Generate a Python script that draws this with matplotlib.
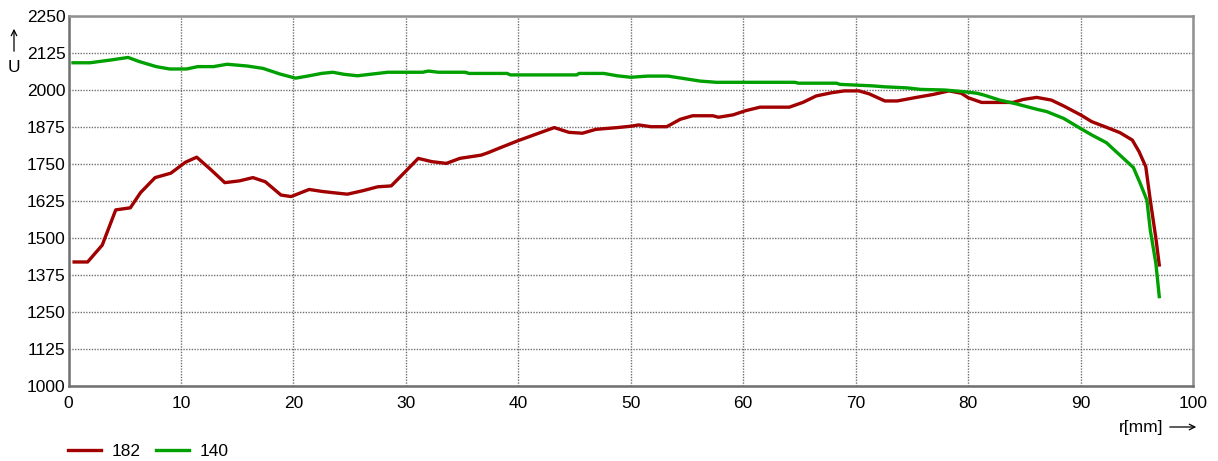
import matplotlib
matplotlib.use("Agg")
import matplotlib.pyplot as plt
from matplotlib.lines import Line2D

plt.rcParams["font.family"] = ["Liberation Sans", "DejaVu Sans"]

# radius [mm] and signal U for the two curves
r_182 = [0.5, 1.7, 3.0, 4.2, 5.5, 6.4, 7.7, 9.1, 10.4, 11.4, 12.6, 13.9, 15.2, 16.4,
         17.5, 18.9, 19.8, 21.4, 22.6, 23.8, 24.8, 26.2, 27.5, 28.7, 30.0, 31.1, 32.3,
         33.6, 34.8, 36.7, 37.3, 38.4, 40.0, 41.3, 43.2, 44.5, 45.7, 46.9, 48.8, 50.1,
         50.7, 51.8, 53.2, 54.4, 55.5, 57.3, 57.8, 59.1, 60.2, 61.5, 64.1, 65.3, 66.5,
         67.9, 69.0, 70.3, 71.2, 72.6, 73.7, 75.4, 76.9, 78.3, 79.4, 80.0, 81.2, 84.0,
         84.9, 86.1, 87.4, 88.5, 90.0, 91.0, 92.3, 93.5, 94.6, 95.2, 95.8, 96.2, 96.7, 97.0]
u_182 = [1419, 1419, 1476, 1595, 1602, 1653, 1704, 1719, 1756, 1773, 1733, 1687, 1693, 1704,
         1690, 1645, 1640, 1664, 1657, 1652, 1648, 1660, 1673, 1676, 1726, 1769, 1758,
         1752, 1769, 1780, 1788, 1805, 1829, 1847, 1873, 1857, 1854, 1867, 1873, 1878,
         1882, 1876, 1876, 1901, 1913, 1913, 1908, 1916, 1930, 1942, 1942, 1958, 1980,
         1991, 1997, 1997, 1987, 1963, 1963, 1975, 1985, 1997, 1989, 1974, 1958, 1958,
         1968, 1975, 1966, 1946, 1916, 1893, 1874, 1856, 1831, 1792, 1741, 1628, 1499, 1409]

r_140 = [0.4, 1.9, 3.7, 5.3, 6.3, 7.8, 9.0, 10.5, 11.5, 12.9, 14.1, 15.9, 17.3, 18.8,
         20.2, 21.4, 22.5, 23.5, 24.5, 25.7, 26.8, 28.4, 31.5, 32.0, 32.9, 35.3, 35.6,
         39.0, 39.3, 45.2, 45.4, 47.6, 48.8, 50.0, 51.5, 53.3, 54.5, 56.2, 57.6, 64.6,
         64.9, 68.3, 68.6, 71.5, 72.5, 74.6, 75.8, 77.9, 79.7, 80.8, 81.4, 82.8, 84.3,
         86.1, 87.0, 88.5, 90.0, 91.0, 92.3, 93.5, 94.7, 95.3, 95.9, 96.2, 96.7, 97.0]
u_140 = [2092, 2092, 2101, 2110, 2096, 2079, 2071, 2071, 2079, 2079, 2087, 2081, 2073, 2054,
         2040, 2048, 2056, 2060, 2053, 2048, 2053, 2060, 2060, 2064, 2060, 2060, 2056,
         2056, 2051, 2051, 2056, 2056, 2048, 2043, 2047, 2047, 2040, 2030, 2026, 2026,
         2023, 2023, 2019, 2014, 2011, 2007, 2002, 2000, 1994, 1989, 1983, 1966, 1953,
         1935, 1927, 1904, 1870, 1848, 1822, 1780, 1738, 1685, 1628, 1527, 1414, 1302]

y_ticks = [1000, 1125, 1250, 1375, 1500, 1625, 1750, 1875, 2000, 2125, 2250]
x_ticks = [0, 10, 20, 30, 40, 50, 60, 70, 80, 90, 100]

RED = "#a00000"
GREEN = "#00a000"
W, H = 1218, 461

fig = plt.figure(figsize=(W / 100, H / 100), dpi=100)
ax = fig.add_axes([68.5 / W, 1 - 386 / H, (1193 - 68.5) / W, 370 / H])

ax.plot(r_182, u_182, color=RED, lw=2.4, solid_joinstyle="round")
ax.plot(r_140, u_140, color=GREEN, lw=2.4, solid_joinstyle="round")

ax.set_xlim(0, 100)
ax.set_ylim(1000, 2250)
ax.set_xticks(x_ticks)
ax.set_yticks(y_ticks)
ax.tick_params(length=0, labelsize=12.5, pad=2)
ax.tick_params(axis="x", pad=7)
ax.grid(True, color="#707070", linestyle=(0, (1, 1)), linewidth=1.0)

for side in ["top", "right"]:
    ax.spines[side].set_color("#909090")
    ax.spines[side].set_linewidth(1.8)
for side in ["left", "bottom"]:
    ax.spines[side].set_color("#707070")
    ax.spines[side].set_linewidth(1.8)

# axis captions with arrows
fig.text(14 / W, 1 - 67 / H, "U", fontsize=12.5, ha="center", va="center")
ax.annotate("", xy=(14 / W, 1 - 26 / H), xytext=(14 / W, 1 - 54 / H),
            xycoords="figure fraction",
            arrowprops=dict(arrowstyle="->", color="black", lw=0.9))
fig.text(1163 / W, 1 - 427 / H, "r[mm]", fontsize=12.5, ha="right", va="center")
ax.annotate("", xy=(1199 / W, 1 - 427 / H), xytext=(1167 / W, 1 - 427 / H),
            xycoords="figure fraction",
            arrowprops=dict(arrowstyle="->", color="black", lw=0.9))

handles = [Line2D([], [], color=RED, lw=2.4), Line2D([], [], color=GREEN, lw=2.4)]
fig.legend(handles, ["182", "140"], loc="center left",
           bbox_to_anchor=(56 / W, 1 - 451 / H), ncol=2, frameon=False,
           fontsize=12.5, handlelength=1.9, handletextpad=0.6, columnspacing=0.9,
           borderpad=0.2)

fig.savefig("out.png", dpi=100)
